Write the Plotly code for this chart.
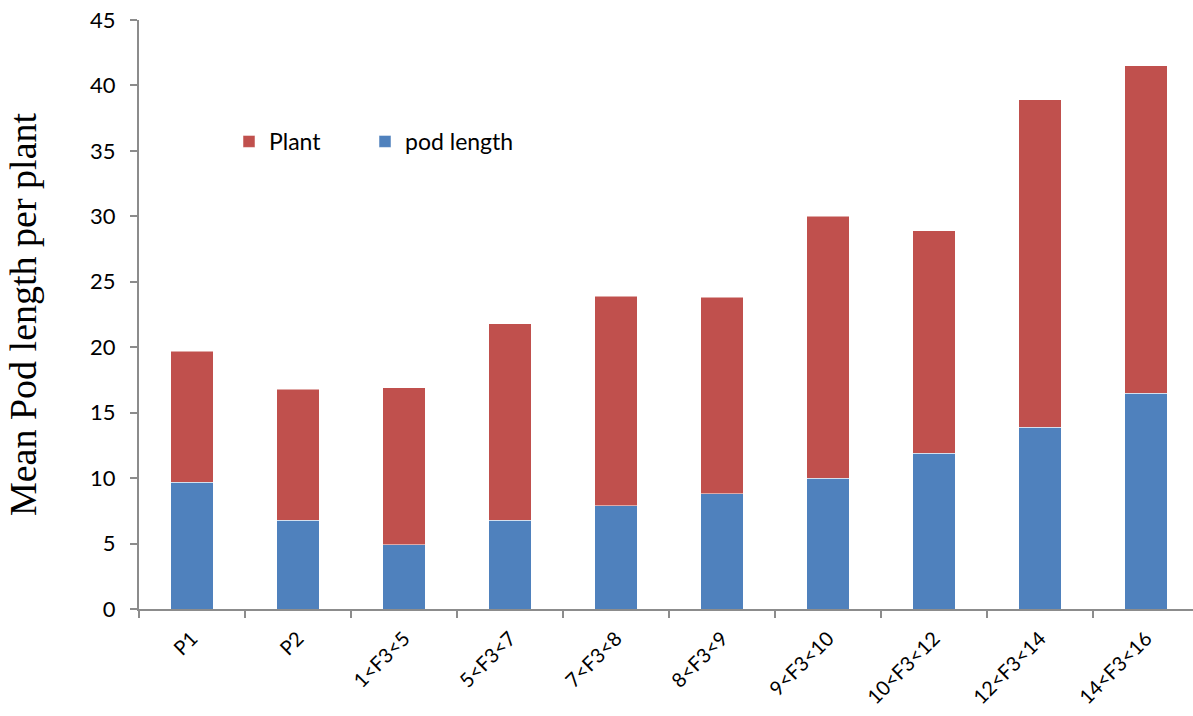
import plotly.graph_objects as go

# Pod length classes
categories = ["P1", "P2", "1<F3<5", "5<F3<7", "7<F3<8", "8<F3<9",
              "9<F3<10", "10<F3<12", "12<F3<14", "14<F3<16"]
# Stacked segments
pod_length = [9.7, 6.8, 4.9, 6.8, 7.9, 8.8, 10.0, 11.9, 13.9, 16.5]
plant = [10.0, 10.0, 12.0, 15.0, 16.0, 15.0, 20.0, 17.0, 25.0, 25.0]

BLUE = "#4F81BD"
RED = "#C0504D"
AXIS = "#8C8C8C"
SANS = "Lato, 'Open Sans', sans-serif"

fig = go.Figure()
fig.add_trace(go.Bar(
    x=categories, y=pod_length, name="pod length", legend="legend2",
    marker=dict(color=BLUE, line=dict(color="rgba(255,255,255,0.5)", width=1)),
    width=0.4,
))
fig.add_trace(go.Bar(
    x=categories, y=plant, name="Plant", legend="legend",
    marker=dict(color=RED, line=dict(color="rgba(255,255,255,0.5)", width=1)),
    width=0.4,
))

legend_style = dict(
    orientation="h", xanchor="left", yanchor="top",
    y=(609 - 120) / 589,
    font=dict(family=SANS, size=23, color="#000000"),
    itemwidth=30, bgcolor="rgba(0,0,0,0)",
)

fig.update_layout(
    width=1193, height=716,
    barmode="stack",
    paper_bgcolor="white", plot_bgcolor="white",
    margin=dict(l=139, r=0, t=20, b=107),
    showlegend=True,
    legend=dict(legend_style, x=(229 - 139) / 1054),
    legend2=dict(legend_style, x=(365 - 139) / 1054),
    xaxis=dict(
        type="category",
        range=[-0.5, 9.443],
        automargin=False,
        showline=True, linecolor=AXIS, linewidth=2,
        ticks="outside", tickson="boundaries", ticklen=7, tickcolor=AXIS, tickwidth=2,
        tickangle=-45, tickfont=dict(family=SANS, size=20, color="#000000"),
        ticklabelstandoff=8,
        showgrid=False, zeroline=False,
    ),
    yaxis=dict(
        range=[0, 45], dtick=5, tick0=0,
        automargin=False,
        showline=True, linecolor=AXIS, linewidth=2,
        ticks="outside", ticklen=7, tickcolor=AXIS, tickwidth=2,
        tickfont=dict(family=SANS, size=22, color="#000000"),
        ticklabelstandoff=10,
        showgrid=False, zeroline=False,
        title=dict(text="Mean Pod length per plant",
                   font=dict(family="'Liberation Serif', 'Times New Roman', serif",
                             size=38, color="#000000"),
                   standoff=42),
    ),
)

fig.write_html("out.html")
